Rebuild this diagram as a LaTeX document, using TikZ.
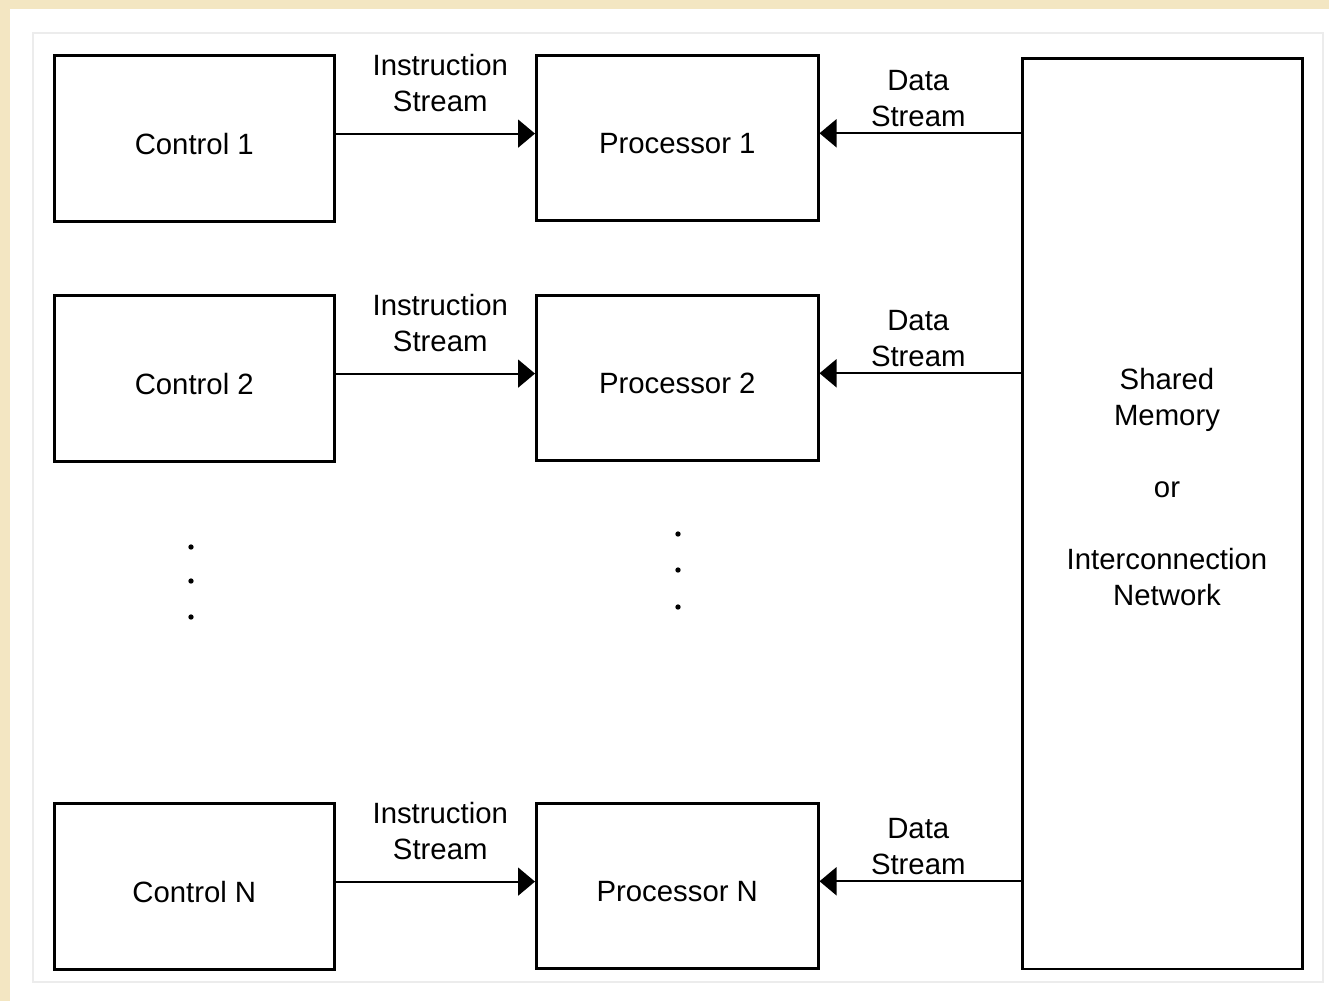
\documentclass[tikz,border=0pt]{standalone}
\usepackage{fontspec}
\setmainfont{Liberation Sans}
\usetikzlibrary{arrows.meta}
\definecolor{parchment}{HTML}{F3E6C2}
\definecolor{framegray}{HTML}{ECECEC}
\begin{document}
\begin{tikzpicture}[
  x=0.75pt, y=-0.75pt,
  font=\fontsize{22}{27}\selectfont,
  unit/.style={draw=black, line width=1.9pt, fill=white, inner sep=0pt, anchor=north west},
  ctrlbox/.style={unit, minimum width=210pt, minimum height=124.5pt},
  procbox/.style={unit, minimum width=211.5pt, minimum height=124pt},
  membox/.style={unit, minimum width=210pt, minimum height=683pt},
  boxtext/.style={inner sep=0pt, text height=15.75pt, text depth=0pt},
  streamlbl/.style={inner sep=0pt, align=center, anchor=south},
  flow/.style={line width=1.5pt, -{Triangle[length=12.75pt, width=21pt]}},
  dot/.style={fill=black, draw=none}
]
\useasboundingbox (0,0) rectangle (1329,1001);

% page background and white panel
\fill[parchment] (0,0) rectangle (1329,1001);
\fill[white] (10,9) rectangle (1329,1001);
\draw[framegray, line width=1.2pt] (33,33) rectangle (1323,982);

% control units
\node[ctrlbox] (c1) at (53,54) {};
\node[ctrlbox] (c2) at (53,294) {};
\node[ctrlbox] (cn) at (53,802) {};
\node[boxtext] (c1t) at ([yshift=-4.1pt]c1.center) {Control 1};
\node[boxtext] (c2t) at ([yshift=-4.1pt]c2.center) {Control 2};
\node[boxtext] (cnt) at ([yshift=-4.1pt]cn.center) {Control N};

% processors
\node[procbox] (p1) at (535,54) {};
\node[procbox] (p2) at (535,294) {};
\node[procbox] (pn) at (535,802) {};
\node[boxtext] (p1t) at ([yshift=-4.1pt]p1.center) {Processor 1};
\node[boxtext] (p2t) at ([yshift=-4.1pt]p2.center) {Processor 2};
\node[boxtext] (pnt) at ([yshift=-4.1pt]pn.center) {Processor N};

% shared memory / interconnection network
\node[membox] (sm) at (1021,57) {};
\node[streamlbl] (smt) at (1167,606) {Shared\\Memory\\[27pt]or\\[27pt]Interconnection\\Network};

% instruction streams
\coordinate (i1) at ([yshift=3.5pt]c1.east);
\coordinate (i2) at ([yshift=3.5pt]c2.east);
\coordinate (in) at ([yshift=3.5pt]cn.east);
\draw[flow] (i1) -- node[streamlbl, above=15.75pt, xshift=3.75pt] (is1) {Instruction\\Stream} (i1 -| p1.west);
\draw[flow] (i2) -- node[streamlbl, above=15.75pt, xshift=3.75pt] (is2) {Instruction\\Stream} (i2 -| p2.west);
\draw[flow] (in) -- node[streamlbl, above=15.75pt, xshift=3.75pt] (isn) {Instruction\\Stream} (in -| pn.west);

% data streams
\coordinate (d1) at ([yshift=3.5pt]p1.east);
\coordinate (d2) at ([yshift=3.5pt]p2.east);
\coordinate (dn) at ([yshift=3.5pt]pn.east);
\draw[flow] (sm.west |- d1) -- node[streamlbl, above=3.75pt, xshift=-1.5pt] (ds1) {Data\\Stream} (d1);
\draw[flow] (sm.west |- d2) -- node[streamlbl, above=3.75pt, xshift=-1.5pt] (ds2) {Data\\Stream} (d2);
\draw[flow] (sm.west |- dn) -- node[streamlbl, above=3.75pt, xshift=-1.5pt] (dsn) {Data\\Stream} (dn);

% ellipsis dots
\foreach \yy in {547,581,617} \fill[dot] (191,\yy) circle (2pt);
\foreach \yy in {534,570,607} \fill[dot] (678,\yy) circle (2pt);
\end{tikzpicture}
\end{document}
